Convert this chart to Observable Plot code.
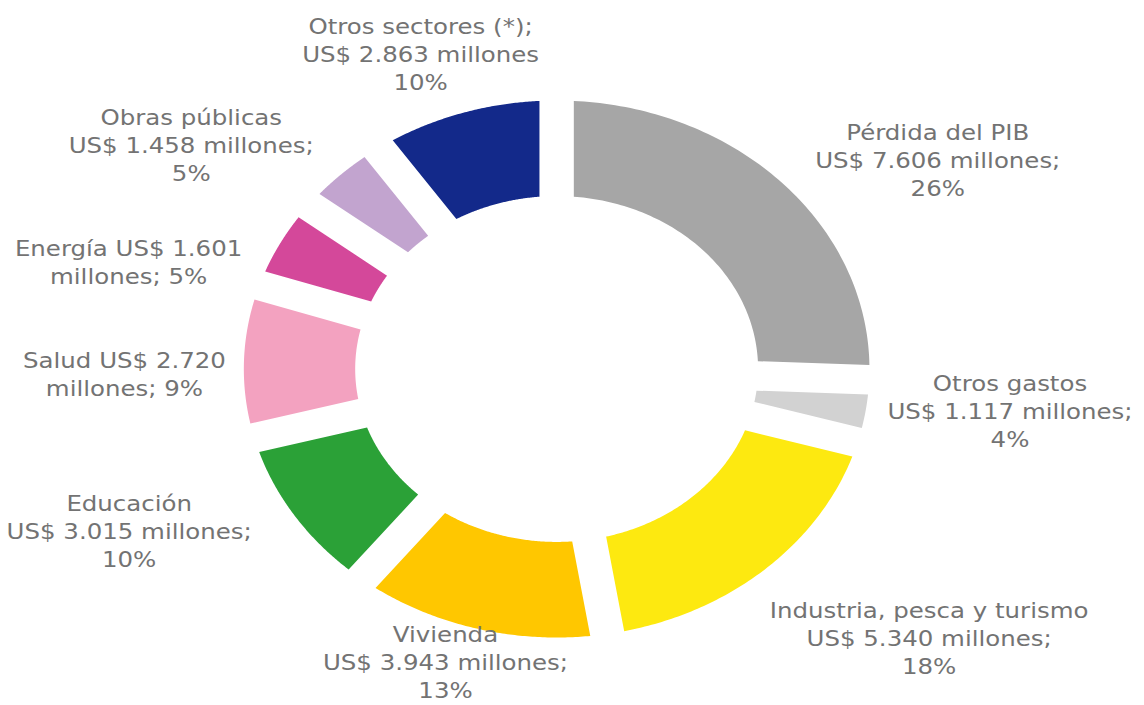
<!DOCTYPE html>
<html><head><meta charset="utf-8">
<script src="https://cdn.jsdelivr.net/npm/d3@7"></script>
<script src="https://cdn.jsdelivr.net/npm/@observablehq/plot@0.6"></script>
<style>
html,body{margin:0;padding:0;background:#fff;overflow:hidden}
#chart{width:1144px;height:705px;overflow:hidden}
#chart svg{transform:scaleX(1.165);transform-origin:0 0;display:block;max-width:none}
</style></head><body><div id="chart"></div>
<script>
// ---- data ----
const categories = ["Pérdida del PIB", "Otros gastos", "Industria, pesca y turismo", "Vivienda", "Educación", "Salud", "Energía", "Obras públicas", "Otros sectores (*)"];
const values = [7606, 1117, 5340, 3943, 3015, 2720, 1601, 1458, 2863]; // US$ millones
const colors = ["#a6a6a6", "#d2d2d2", "#fde910", "#ffc700", "#2ba137", "#f3a2c0", "#d4489a", "#c2a4cf", "#13298a"];
const labelTemplates = [
  "Pérdida del PIB\nUS$ {v} millones;\n{p}%",
  "Otros gastos\nUS$ {v} millones;\n{p}%",
  "Industria, pesca y turismo\nUS$ {v} millones;\n{p}%",
  "Vivienda\nUS$ {v} millones;\n{p}%",
  "Educación\nUS$ {v} millones;\n{p}%",
  "Salud US$ {v}\nmillones; {p}%",
  "Energía US$ {v}\nmillones; {p}%",
  "Obras públicas\nUS$ {v} millones;\n{p}%",
  "Otros sectores (*);\nUS$ {v} millones\n{p}%"
];

// ---- layout ----
const W = 982, H = 705;           // drawn width before horizontal stretch
const PX = 268.5;                 // px per unit (outer radius = 1)
const CX = 477.3, CY = 368.5;     // ring centre in px
const INNER = 0.644;              // inner radius (outer = 1)
const GAP = 29.5 / PX;            // separation between slices
const FS = 21, LH = 28, LABEL_GAP = 15, LABEL_DROP = 9;
const SPREAD = 14 * Math.PI / 180; // labels drift away from the diagonals toward the sides

const fmt = d3.formatLocale({decimal: ",", thousands: ".", grouping: [3], currency: ["", ""]}).format(",d");
const total = d3.sum(values);
const arcs = d3.pie().sort(null).value(d => d)(values);

// slice outlines (in unit coordinates, y up)
const pts = [];
arcs.forEach((p, i) => {
  const h = GAP / 2;
  const ring = (rho, from, to) => {
    const n = 90;
    for (let k = 0; k <= n; k++) {
      const a = from + (to - from) * k / n;
      pts.push({name: categories[i], x: rho * Math.sin(a), y: rho * Math.cos(a)});
    }
  };
  const dO = Math.asin(h / 1), dI = Math.asin(h / INNER);
  ring(1, p.startAngle + dO, p.endAngle - dO);
  ring(INNER, p.endAngle - dI, p.startAngle + dI);
});

// labels: text box pushed out along the slice direction until it clears the ring
const ctx = document.createElement("canvas").getContext("2d");
ctx.font = `${FS}px "DejaVu Sans"`;
const boxDist = (cx, cy, w, h) => {
  const x0 = cx - w / 2, x1 = cx + w / 2, y0 = cy - h / 2, y1 = cy + h / 2;
  const dx = x0 > 0 ? x0 : (x1 < 0 ? -x1 : 0);
  const dy = y0 > 0 ? y0 : (y1 < 0 ? -y1 : 0);
  return Math.hypot(dx, dy);
};
const labelRows = arcs.map((p, i) => {
  const text = labelTemplates[i]
    .replace("{v}", fmt(values[i]))
    .replace("{p}", Math.round(values[i] / total * 100));
  const lines = text.split("\n");
  const w = d3.max(lines, l => ctx.measureText(l).width);
  const hh = lines.length * LH;
  const mid = (p.startAngle + p.endAngle) / 2;
  const a = mid + SPREAD * Math.sin(2 * mid) * Math.abs(Math.sin(mid));
  const s = Math.sin(a), c = Math.cos(a);
  const rg = PX + LABEL_GAP;
  let t = PX;
  while (boxDist(t * s, t * c, w, hh) < rg) t += 0.5;
  let x = t * s, y = t * c - LABEL_DROP;
  // keep the box inside the picture vertically
  y = Math.min(y, CY - hh / 2 + 5);
  y = Math.max(y, -(H - CY) + hh / 2 + 2);
  return {text, x: x / PX, y: y / PX};
});

const chart = Plot.plot({
  width: W, height: H, margin: 0,
  style: {background: "#fff"},
  x: {domain: [-CX / PX, (W - CX) / PX], axis: null},
  y: {domain: [-(H - CY) / PX, CY / PX], axis: null},
  color: {domain: categories, range: colors},
  marks: [
    Plot.line(pts, {x: "x", y: "y", z: "name", fill: "name", stroke: "none", curve: "linear-closed"}),
    Plot.text(labelRows, {x: "x", y: "y", text: "text", textAnchor: "middle", lineAnchor: "middle",
      lineHeight: LH / FS, fontSize: FS, fontFamily: "DejaVu Sans", fill: "#737373"})
  ]
});
document.getElementById("chart").appendChild(chart);
</script>
</body></html>
